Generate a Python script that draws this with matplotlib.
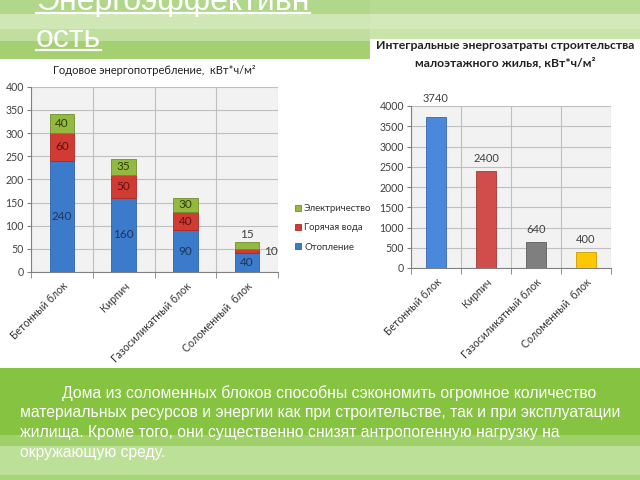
import matplotlib
matplotlib.use("Agg")
import matplotlib.pyplot as plt
import numpy as np
from matplotlib.patches import Rectangle
from matplotlib.lines import Line2D

# данные
kategorii = ["Бетонный блок", "Кирпич", "Газосиликатный блок", "Соломенный  блок"]
otoplenie = [240, 160, 90, 40]
goryachaya_voda = [60, 50, 40, 10]
elektrichestvo = [40, 35, 30, 15]
integralnye = [3740, 2400, 640, 400]

zagolovok = ["Энергоэффективн", "ость"]
title_left = "Годовое энергопотребление,  кВт*ч/м²"
title_right = "Интегральные энергозатраты строительства\nмалоэтажного жилья, кВт*ч/м²"
stroki = [
    "Дома из соломенных блоков способны сэкономить огромное количество",
    "материальных ресурсов и энергии как при строительстве, так и при эксплуатации",
    "жилища. Кроме того, они существенно снизят антропогенную нагрузку на",
    "окружающую среду.",
]

plt.rcParams['font.family'] = ['Lato', 'Open Sans', 'DejaVu Sans']

W, H = 640, 480
fig = plt.figure(figsize=(6.4, 4.8), dpi=100)
fig.patch.set_facecolor("white")


def box(x0, y0, x1, y1):
    # пиксели картинки -> доли фигуры
    return [x0 / W, 1 - y1 / H, (x1 - x0) / W, (y1 - y0) / H]


def polosa(x0, y0, x1, y1, color, z=-1):
    l, b, w, h = box(x0, y0, x1, y1)
    fig.add_artist(Rectangle((l, b), w, h, transform=fig.transFigure,
                             facecolor=color, edgecolor="none", zorder=z))


# шапка
for y0, y1, c in [(0, 14, "#b1d78b"), (14, 29, "#cfe7b4"), (29, 41, "#c0df9f"), (41, 59, "#a4d072")]:
    polosa(0, y0, 370, y1, c)
for y0, y1, c in [(0, 14, "#b8db93"), (14, 29, "#d3e9ba"), (29, 39, "#c8e4a9")]:
    polosa(370, y0, 640, y1, c)

# нижняя полоса (поверх подписей осей)
for y0, y1, c in [(368, 435, "#86c340"), (435, 446, "#a0d06a"), (446, 475, "#bce098"), (475, 480, "#a6d477")]:
    polosa(0, y0, 640, y1, c, z=5)

# --- левый график ---
ax1 = fig.add_axes(box(31, 86.7, 278, 272))
x = np.arange(len(kategorii))
c_blue, c_red, c_green = "#3c7bcb", "#d23b33", "#94b941"
b1 = ax1.bar(x, otoplenie, 0.4, color=c_blue, edgecolor="#2f62a6", linewidth=0.6, zorder=3)
b2 = ax1.bar(x, goryachaya_voda, 0.4, bottom=otoplenie, color=c_red, edgecolor="#a82a24", linewidth=0.6, zorder=3)
niz3 = np.array(otoplenie) + np.array(goryachaya_voda)
b3 = ax1.bar(x, elektrichestvo, 0.4, bottom=niz3, color=c_green, edgecolor="#6f8f2a", linewidth=0.6, zorder=3)

for i in range(len(kategorii)):
    ax1.text(x[i], otoplenie[i] / 2, str(otoplenie[i]), ha="center", va="center",
             fontsize=8.5, color="#1b3556", zorder=4)
    if i < 3:
        ax1.text(x[i], otoplenie[i] + goryachaya_voda[i] / 2, str(goryachaya_voda[i]),
                 ha="center", va="center", fontsize=8.5, color="#5a1410", zorder=4)
        ax1.text(x[i], niz3[i] + elektrichestvo[i] / 2, str(elektrichestvo[i]),
                 ha="center", va="center", fontsize=8.5, color="#2f3d0c", zorder=4)
    else:
        ax1.annotate(str(goryachaya_voda[i]), (x[i] + 0.2, otoplenie[i] + goryachaya_voda[i] / 2),
                     xytext=(3, 0), textcoords="offset points", ha="left", va="center",
                     fontsize=8.5, color="#404040")
        ax1.annotate(str(elektrichestvo[i]), (x[i], niz3[i] + elektrichestvo[i]),
                     xytext=(0, 1), textcoords="offset points", ha="center", va="bottom",
                     fontsize=8.5, color="#404040")

ax1.set_ylim(0, 400)
ax1.set_yticks(np.arange(0, 401, 50))
ax1.set_title(title_left, fontsize=8, color="#222222", pad=9)

ax1.legend([b3, b2, b1], ["Электричество", "Горячая вода", "Отопление"],
           loc="center left", bbox_to_anchor=(295 / W, 1 - 228 / H), bbox_transform=fig.transFigure,
           frameon=False, fontsize=6.9, handlelength=0.6, handleheight=0.6, handletextpad=0.35,
           labelspacing=1.05, labelcolor="#333333", borderpad=0, borderaxespad=0)

# --- правый график ---
ax2 = fig.add_axes(box(411, 106, 611, 268))
cv = ["#4a88dc", "#d04d4b", "#7f7f7f", "#fdc800"]
ce = ["#3467b0", "#a33836", "#5e5e5e", "#c99e00"]
ax2.bar(x, integralnye, 0.4, color=cv, edgecolor=ce, linewidth=0.6, zorder=3)
for i, v in enumerate(integralnye):
    ax2.annotate(str(v), (x[i], v), xytext=(0, 5 if v < 3000 else 9), textcoords="offset points",
                 ha="center", va="bottom", fontsize=8, color="#404040")
ax2.set_ylim(0, 4000)
ax2.set_yticks(np.arange(0, 4001, 500))

fig.text(505 / W, 1 - 54 / H, title_right, ha="center", va="center", fontsize=8.8,
         fontweight="bold", color="#222222", linespacing=1.55)

for ax in (ax1, ax2):
    ax.set_facecolor("#f2f2f2")
    ax.set_xlim(-0.5, 3.5)
    ax.set_xticks(x)
    ax.set_xticklabels(kategorii, rotation=45, ha="right", rotation_mode="anchor",
                       fontsize=7.6, color="#333333")
    ax.set_xticks(np.arange(-0.5, 3.6, 1), minor=True)
    ax.tick_params(axis="x", which="major", length=0, pad=6)
    ax.tick_params(axis="x", which="minor", length=4, color="#808080")
    ax.tick_params(axis="y", length=3, color="#808080", labelsize=7.6, labelcolor="#404040", pad=2)
    ax.grid(axis="y", color="#bfbfbf", linewidth=0.8, zorder=0)
    ax.grid(axis="x", which="minor", color="#bfbfbf", linewidth=0.8, zorder=0)
    ax.set_axisbelow(True)
    for s in ("top", "right"):
        ax.spines[s].set_visible(False)
    for s in ("left", "bottom"):
        ax.spines[s].set_color("#808080")

# заголовок слайда
tz = []
for i, s in enumerate(zagolovok):
    t = fig.text(36 / W, 1 - (10 + 37 * i) / H, s, ha="left", va="baseline",
                 fontsize=23, color="white", family=["Liberation Sans", "DejaVu Sans"], zorder=6)
    tz.append(t)

# нижний текст
for i, s in enumerate(stroki):
    fig.text((62 if i == 0 else 20) / W, 1 - (398 + 19.5 * i) / H, s, ha="left", va="baseline",
             fontsize=11.3, color="white",
             family=["Liberation Sans Narrow", "Liberation Sans", "DejaVu Sans"], zorder=6)

# подчёркивание заголовка
fig.canvas.draw()
r = fig.canvas.get_renderer()
for t in tz:
    bb = t.get_window_extent(r)
    yb = t.get_position()[1] - 3 / H
    fig.add_artist(Line2D([bb.x0 / W, bb.x1 / W], [yb, yb], transform=fig.transFigure,
                          color="white", linewidth=1.6, zorder=6))

fig.savefig("out.png", dpi=100)
